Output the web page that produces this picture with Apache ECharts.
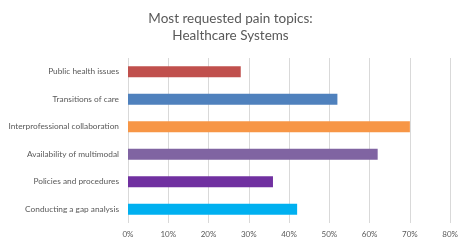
<!DOCTYPE html>
<html>
<head>
<meta charset="utf-8">
<script src="https://cdn.jsdelivr.net/npm/echarts@6/dist/echarts.min.js"></script>
<style>
  html, body { margin: 0; padding: 0; background: #fff; }
  #chart { width: 461px; height: 240px; }
</style>
</head>
<body>
<div id="chart"></div>
<script>
  // top to bottom, as in the picture
  const topics = [
    'Public health issues',
    'Transitions of care',
    'Interprofessional collaboration',
    'Availability of multimodal',
    'Policies and procedures',
    'Conducting a gap analysis'
  ];
  const shares = [28, 52, 70, 62, 36, 42];
  const barColors = ['#C0504D', '#4F81BD', '#F79646', '#8064A2', '#7030A0', '#00B0F0'];

  const font = 'Lato, "Open Sans", sans-serif';
  const chart = echarts.init(document.getElementById('chart'));

  chart.setOption({
    animation: false,
    title: {
      text: 'Most requested pain topics:\nHealthcare Systems',
      left: 'center',
      top: 5,
      textStyle: {
        fontFamily: font,
        fontSize: 13.5,
        fontWeight: 'normal',
        color: '#595959',
        lineHeight: 17
      }
    },
    grid: {
      left: 128,
      right: 8,
      top: 58,
      bottom: 17
    },
    xAxis: {
      type: 'value',
      min: 0,
      max: 80,
      interval: 10,
      axisLine: { show: false },
      axisTick: { show: false },
      splitLine: { lineStyle: { color: '#d9d9d9', width: 1 } },
      axisLabel: {
        formatter: '{value}%',
        fontFamily: font,
        fontSize: 8,
        color: '#595959',
        margin: 7
      }
    },
    yAxis: {
      type: 'category',
      inverse: true,
      data: topics,
      axisLine: { show: false },
      axisTick: { show: false },
      axisLabel: {
        fontFamily: font,
        fontSize: 8.3,
        color: '#595959',
        margin: 9
      }
    },
    series: [{
      type: 'bar',
      barWidth: 11,
      data: shares.map((v, i) => ({ value: v, itemStyle: { color: barColors[i] } }))
    }]
  });
</script>
</body>
</html>
